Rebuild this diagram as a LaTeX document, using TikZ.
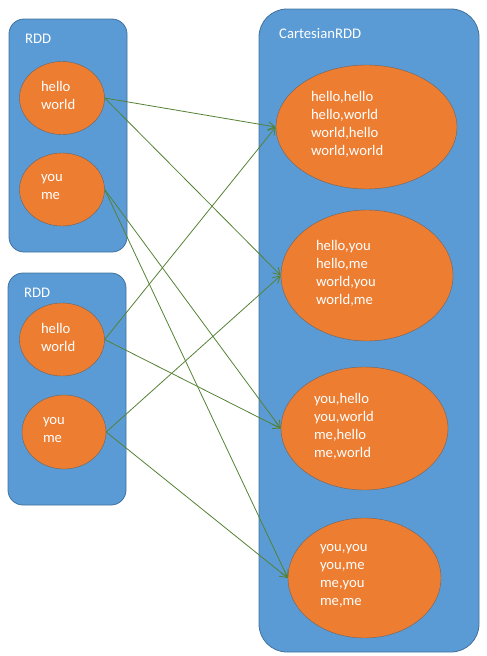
\documentclass[tikz,border=0pt]{standalone}
\usepackage{fontspec}
\setmainfont{Carlito}
\usetikzlibrary{shapes.geometric,arrows.meta}
\definecolor{rddblue}{HTML}{5B9BD5}
\definecolor{rddedge}{HTML}{41719C}
\definecolor{partorange}{HTML}{ED7D31}
\definecolor{partedge}{HTML}{6B6460}
\definecolor{linkgreen}{HTML}{548235}

\begin{document}
\begin{tikzpicture}[x=1pt,y=-1pt,
  rddbox/.style={draw=rddedge,fill=rddblue,line width=0.8pt},
  part/.style={ellipse,draw=partedge,fill=partorange,text=white,inner sep=0pt,
    align=left,font=\fontsize{14.67}{18}\selectfont,
    execute at end node={\vspace*{5pt}}},
  link/.style={draw=linkgreen,line width=0.8pt,-{Straight Barb[length=7pt,width=8pt]}},
  boxtitle/.style={text=white,anchor=west,inner sep=0pt,font=\fontsize{14.67}{18}\selectfont}]
  \useasboundingbox (0,0) rectangle (487,656);
  % containers
  \node[rddbox,rounded corners=15pt,minimum width=118pt,minimum height=233pt] (rddA) at (68,135.5) {};
  \node[rddbox,rounded corners=15pt,minimum width=118pt,minimum height=232pt] (rddB) at (67,389) {};
  \node[rddbox,rounded corners=28pt,minimum width=220pt,minimum height=643pt] (cart) at (369,330.5) {};
  \node[boxtitle] (rddAtitle) at (25,39) {RDD};
  \node[boxtitle] (rddBtitle) at (24,293) {RDD};
  \node[boxtitle] (carttitle) at (279,34) {CartesianRDD};
  % partitions of the two parents
  \node[part,minimum width=85pt,minimum height=73pt,text width=42pt] (a1) at (62,98) {hello\\world};
  \node[part,minimum width=85pt,minimum height=73pt,text width=42pt] (a2) at (62,189.5) {you\\me};
  \node[part,minimum width=85pt,minimum height=73pt,text width=42pt] (b1) at (62,339.5) {hello\\world};
  \node[part,minimum width=84pt,minimum height=74pt,text width=42pt] (b2) at (64,432) {you\\me};
  % partitions of the product
  \node[part,minimum width=181pt,minimum height=124pt,text width=111pt] (c1) at (366.5,127) {hello,hello\\hello,world\\world,hello\\world,world};
  \node[part,minimum width=172pt,minimum height=131pt,text width=102pt] (c2) at (367,275.5) {hello,you\\hello,me\\world,you\\world,me};
  \node[part,minimum width=167pt,minimum height=123pt,text width=101pt] (c3) at (364.5,428.5) {you,hello\\you,world\\me,hello\\me,world};
  \node[part,minimum width=153pt,minimum height=120pt,text width=89pt] (c4) at (364.5,578) {you,you\\you,me\\me,you\\me,me};
  % dependencies
  \draw[link] (a1.east) -- (c1.west);
  \draw[link] (a1.east) -- (c2.west);
  \draw[link] (a2.east) -- (c3.west);
  \draw[link] (a2.east) -- (c4.west);
  \draw[link] (b1.east) -- (c1.west);
  \draw[link] (b1.east) -- (c3.west);
  \draw[link] (b2.east) -- (c2.west);
  \draw[link] (b2.east) -- (c4.west);
\end{tikzpicture}
\end{document}
